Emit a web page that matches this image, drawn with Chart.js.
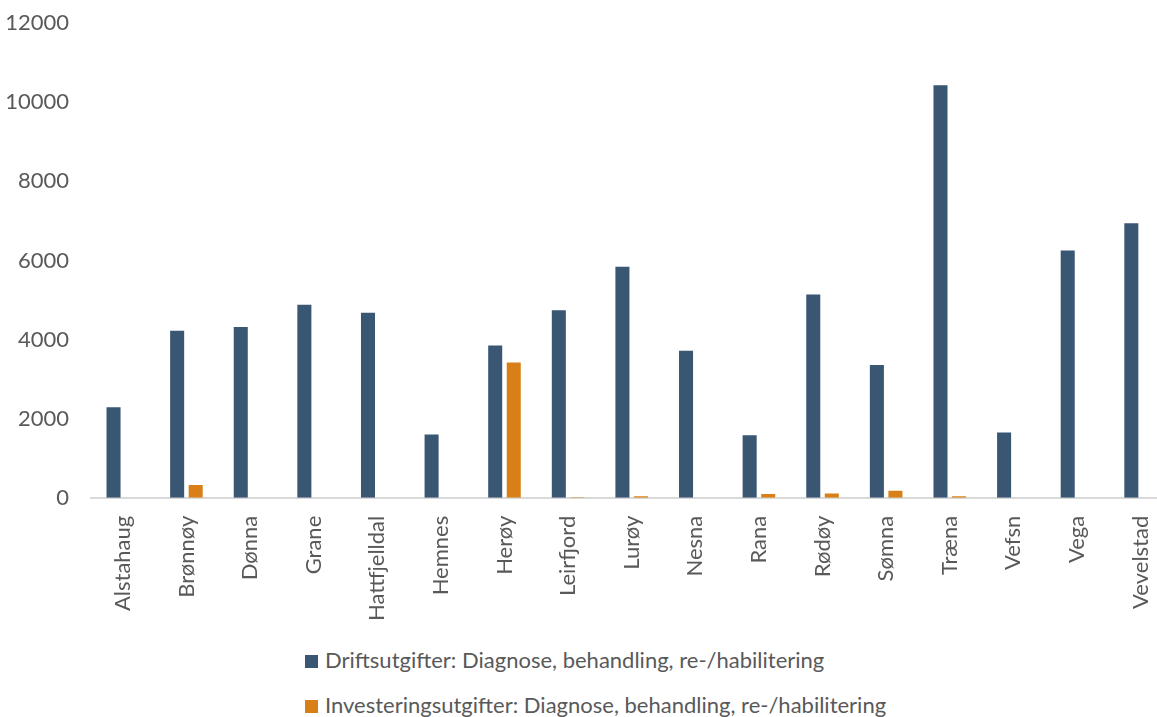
<!DOCTYPE html>
<html>
<head>
<meta charset="utf-8">
<script src="https://cdn.jsdelivr.net/npm/chart.js@4/dist/chart.umd.min.js"></script>
<style>
  html, body { margin: 0; padding: 0; background: #fff; overflow: hidden; }
  #wrap { position: relative; width: 1157px; height: 717px; overflow: hidden; }
  #chart { position: absolute; left: 0; top: -12px; }
  .legend { position: absolute; left: 305px; font-family: Lato, sans-serif; font-size: 22px; line-height: 26px; color: #595959; white-space: nowrap; }
  .legend span.box { display: inline-block; width: 13px; height: 13px; margin-right: 7px; vertical-align: 0px; }
</style>
</head>
<body>
<div id="wrap">
  <canvas id="chart" width="1177" height="647"></canvas>
  <div class="legend" style="top:647px"><span class="box" style="background:#395673"></span>Driftsutgifter: Diagnose, behandling, re-/habilitering</div>
  <div class="legend" style="top:692px"><span class="box" style="background:#D88017"></span>Investeringsutgifter: Diagnose, behandling, re-/habilitering</div>
</div>
<script>
// Kommuner
const kommuner = ['Alstahaug', 'Brønnøy', 'Dønna', 'Grane', 'Hattfjelldal', 'Hemnes', 'Herøy', 'Leirfjord',
  'Lurøy', 'Nesna', 'Rana', 'Rødøy', 'Sømna', 'Træna', 'Vefsn', 'Vega', 'Vevelstad'];

const driftsutgifter = [2290, 4220, 4320, 4880, 4680, 1600, 3850, 4740, 5840, 3720, 1580, 5140, 3360, 10430, 1650, 6250, 6940];
const investeringsutgifter = [0, 320, 0, 0, 0, 0, 3420, 10, 40, 0, 95, 110, 180, 35, 0, 0, 0];

const yTicks = [0, 2000, 4000, 6000, 8000, 10000, 12000];

const tekst = '#595959';

new Chart(document.getElementById('chart'), {
  type: 'bar',
  data: {
    labels: kommuner,
    datasets: [
      {
        label: 'Driftsutgifter: Diagnose, behandling, re-/habilitering',
        data: driftsutgifter,
        backgroundColor: '#395673'
      },
      {
        label: 'Investeringsutgifter: Diagnose, behandling, re-/habilitering',
        data: investeringsutgifter,
        backgroundColor: '#D88017'
      }
    ]
  },
  options: {
    responsive: false,
    animation: false,
    layout: { padding: { top: 2, right: 0, bottom: 4, left: 0 } },
    datasets: { bar: { categoryPercentage: 0.583, barPercentage: 0.757 } },
    plugins: { legend: { display: false }, tooltip: { enabled: false } },
    scales: {
      x: {
        grid: { display: false },
        border: { display: true, color: '#D9D9D9', width: 2 },
        ticks: {
          color: tekst,
          font: { family: 'Lato', size: 22 },
          minRotation: 90,
          maxRotation: 90,
          padding: 10,
          autoSkip: false
        }
      },
      y: {
        min: 0,
        max: 12000,
        afterFit(scale) { scale.width = 91; },
        afterBuildTicks(scale) { scale.ticks = yTicks.map(v => ({ value: v })); },
        grid: { display: false, drawTicks: false },
        border: { display: false },
        ticks: {
          color: tekst,
          font: { family: 'Lato', size: 22 },
          padding: 22,
          callback: v => String(v)
        }
      }
    }
  }
});
</script>
</body>
</html>
